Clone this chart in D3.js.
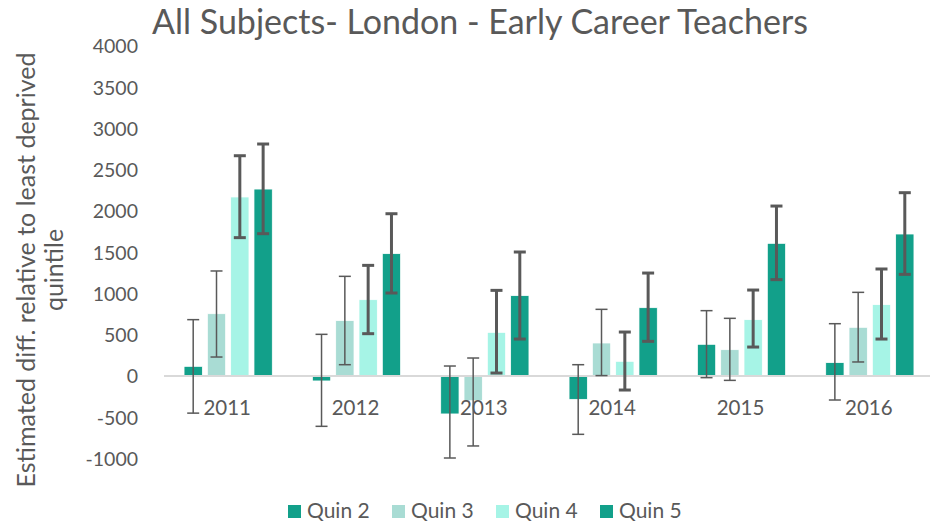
<!DOCTYPE html>
<html>
<head>
<meta charset="utf-8">
<script src="https://cdn.jsdelivr.net/npm/d3@7"></script>
<style>
  body { margin: 0; background: #fff; }
  text { font-family: Lato, "Open Sans", sans-serif; fill: #595959; }
</style>
</head>
<body>
<div id="chart"></div>
<script>
// chart data
var years = ["2011", "2012", "2013", "2014", "2015", "2016"];
var series = ["Quin 2", "Quin 3", "Quin 4", "Quin 5"];
var colors = ["#12A08A", "#A9DCD4", "#A6F4E6", "#12A08A"];

// estimates per series, one per year
var quin2 = [117, -60, -460, -283, 384, 162];
var quin3 = [755, 671, -300, 400, 319, 590];
var quin4 = [2170, 925, 529, 178, 683, 865];
var quin5 = [2266, 1483, 974, 828, 1608, 1721];

// error bar lower / upper bounds
var quin2Low = [-450, -610, -994, -707, -20, -291];
var quin2High = [683, 505, 121, 137, 792, 634];
var quin3Low = [230, 137, -848, 5, -53, 170];
var quin3High = [1273, 1208, 218, 808, 699, 1014];
var quin4Low = [1677, 513, 36, -170, 351, 448];
var quin4High = [2670, 1341, 1038, 533, 1042, 1297];
var quin5Low = [1725, 1006, 448, 420, 1168, 1232];
var quin5High = [2812, 1967, 1503, 1248, 2060, 2222];

var yTicks = [-1000, -500, 0, 500, 1000, 1500, 2000, 2500, 3000, 3500, 4000];

var values = [quin2, quin3, quin4, quin5];
var lows = [quin2Low, quin3Low, quin4Low, quin5Low];
var highs = [quin2High, quin3High, quin4High, quin5High];

var data = [];
years.forEach(function(yr, i) {
  series.forEach(function(s, j) {
    data.push({ year: yr, series: s, idx: j, value: values[j][i], low: lows[j][i], high: highs[j][i] });
  });
});

var W = 930, H = 522;
var svg = d3.select("#chart").append("svg")
  .attr("width", W)
  .attr("height", H);

// scales
var x0 = d3.scaleBand().domain(years).range([164, 934]).padding(0);
var x1 = d3.scaleBand().domain(series).range([0, x0.bandwidth()])
  .paddingInner(0.215).paddingOuter(0.86);
var y = d3.scaleLinear().domain([-1000, 4000]).range([458.5, 46]);

// title
svg.append("text")
  .attr("x", 480)
  .attr("y", 34)
  .attr("text-anchor", "middle")
  .style("font-size", "34px")
  .text("All Subjects- London - Early Career Teachers");

// y axis (labels only), plain hyphen for negatives
var yAxis = d3.axisLeft(y).tickValues(yTicks).tickSize(0).tickPadding(0)
  .tickFormat(function(d) { return String(d); });
var gy = svg.append("g")
  .attr("transform", "translate(138,0)")
  .call(yAxis);
gy.select(".domain").remove();
gy.selectAll("text")
  .style("font-size", "19.5px")
  .style("font-family", "Lato, 'Open Sans', sans-serif")
  .attr("fill", "#595959")
  .attr("dy", "0.35em");

// y axis title
var yt = svg.append("text")
  .attr("transform", "translate(28,270) rotate(-90)")
  .attr("text-anchor", "middle")
  .style("font-size", "25px");
yt.append("tspan").attr("x", 0).attr("dy", 7).text("Estimated diff. relative to least deprived");
yt.append("tspan").attr("x", 0).attr("dy", 28).text("quintile");

// bars
svg.selectAll("rect.bar")
  .data(data)
  .enter()
  .append("rect")
  .attr("class", "bar")
  .attr("x", function(d) { return x0(d.year) + x1(d.series); })
  .attr("width", x1.bandwidth())
  .attr("y", function(d) { return y(Math.max(0, d.value)); })
  .attr("height", function(d) { return Math.abs(y(d.value) - y(0)); })
  .attr("fill", function(d) { return colors[d.idx]; })
  .attr("stroke", "#fff")
  .attr("stroke-width", 0.75);

// zero line
svg.append("line")
  .attr("x1", 164).attr("x2", 934)
  .attr("y1", y(0)).attr("y2", y(0))
  .attr("stroke", "#D9D9D9")
  .attr("stroke-width", 2);

// year labels
svg.selectAll("text.year")
  .data(years)
  .enter()
  .append("text")
  .attr("class", "year")
  .attr("x", function(d) { return x0(d) + x0.bandwidth() / 2 - 1; })
  .attr("y", 415)
  .attr("text-anchor", "middle")
  .style("font-size", "20.5px")
  .text(function(d) { return d; });

// error bars
var eb = svg.selectAll("g.err")
  .data(data)
  .enter()
  .append("g")
  .attr("class", "err")
  .attr("stroke", "#595959")
  .attr("stroke-width", function(d) { return d.idx < 2 ? 1.5 : 3; });

function cx(d) { return x0(d.year) + x1(d.series) + x1.bandwidth() / 2; }

eb.append("line")
  .attr("x1", cx).attr("x2", cx)
  .attr("y1", function(d) { return y(d.low); })
  .attr("y2", function(d) { return y(d.high); });
eb.append("line")
  .attr("x1", function(d) { return cx(d) - 6; })
  .attr("x2", function(d) { return cx(d) + 6; })
  .attr("y1", function(d) { return y(d.low); })
  .attr("y2", function(d) { return y(d.low); });
eb.append("line")
  .attr("x1", function(d) { return cx(d) - 6; })
  .attr("x2", function(d) { return cx(d) + 6; })
  .attr("y1", function(d) { return y(d.high); })
  .attr("y2", function(d) { return y(d.high); });

// legend
var legend = svg.selectAll("g.legend")
  .data(series)
  .enter()
  .append("g")
  .attr("class", "legend")
  .attr("transform", function(d, i) { return "translate(" + (288 + i * 104) + ",505)"; });
legend.append("rect")
  .attr("width", 13)
  .attr("height", 13)
  .attr("fill", function(d, i) { return colors[i]; });
legend.append("text")
  .attr("x", 19)
  .attr("y", 13)
  .style("font-size", "21px")
  .text(function(d) { return d; });
</script>
</body>
</html>
